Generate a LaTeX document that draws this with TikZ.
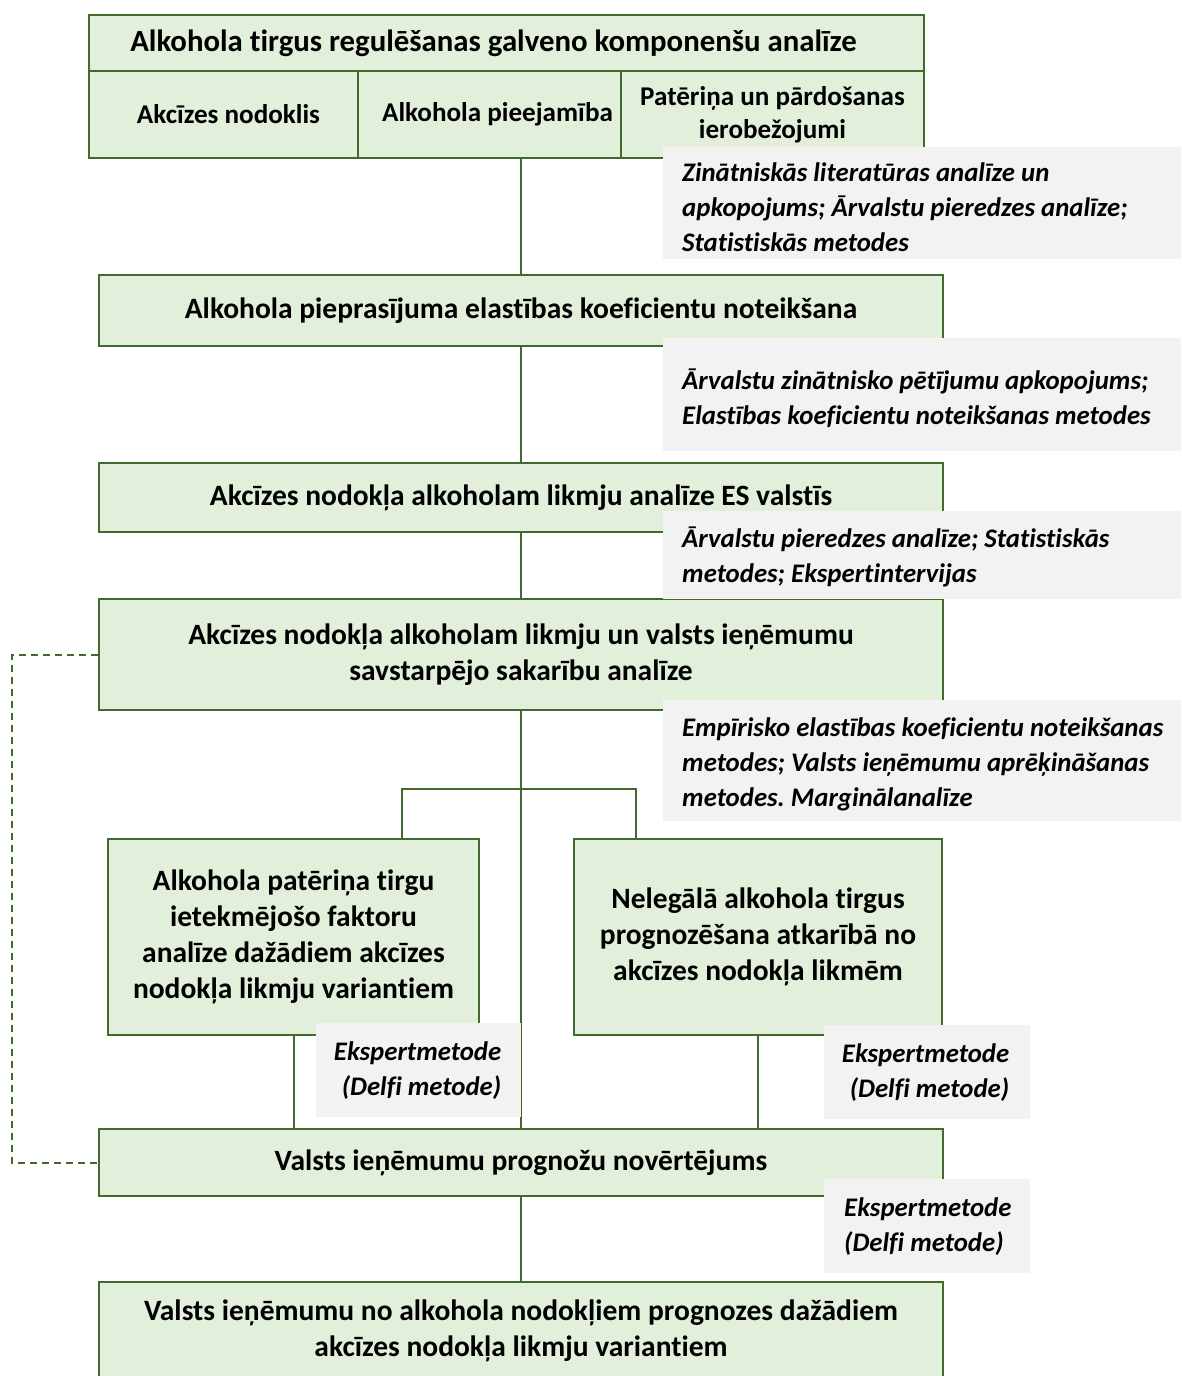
\documentclass[tikz,border=0pt]{standalone}
\usepackage{fontspec}
\setmainfont{Carlito}[Ligatures=CommonOff]
\usetikzlibrary{calc}
\definecolor{boxfill}{HTML}{E2EFDA}
\definecolor{boxline}{HTML}{426A2E}
\definecolor{notefill}{HTML}{F2F2F2}
\frenchspacing
\begin{document}
\begin{tikzpicture}[x=1pt,y=-1pt,
  greenbox/.style={draw=boxline, fill=boxfill, line width=2pt, inner sep=0pt, align=center,
    font=\fontsize{29.5}{36}\selectfont\bfseries},
  titlebox/.style={greenbox, font=\fontsize{30.8}{37}\selectfont\bfseries},
  cellbox/.style={greenbox, font=\fontsize{27.1}{33}\selectfont\bfseries},
  notebg/.style={fill=notefill, anchor=north west, inner sep=0pt},
  notetext/.style={inner sep=0pt, font=\fontsize{26.8}{35}\selectfont\bfseries\itshape},
  link/.style={draw=boxline, line width=2pt},
  backlink/.style={draw=boxline, line width=2pt, dash pattern=on 7pt off 5pt}]
\useasboundingbox (0,0) rectangle (1181,1376);

% main chain of boxes
\node[titlebox, minimum width=835, minimum height=57] (title) at (506.5,43.5)
  {Alkohola tirgus regulēšanas galveno komponenšu analīze\hspace*{26pt}\null};
\node[cellbox, minimum width=269, minimum height=87] (cellA) at (223.5,114.5)
  {\hspace*{10pt}Akcīzes nodoklis};
\node[cellbox, minimum width=263, minimum height=87] (cellB) at (489.5,114.5)
  {\hspace*{16pt}Alkohola pieejamība};
\node[cellbox, minimum width=303, minimum height=87] (cellC) at (772.5,114.5)
  {Patēriņa un pārdošanas\\ierobežojumi};
\node[inner sep=0pt, minimum width=835, minimum height=144] (frame) at (506.5,86) {};

\node[greenbox, minimum width=844, minimum height=71] (b2) at (521,310.5)
  {Alkohola pieprasījuma elastības koeficientu noteikšana};
\node[greenbox, minimum width=844, minimum height=69] (b3) at (521,497.5)
  {Akcīzes nodokļa alkoholam likmju analīze ES valstīs};
\node[greenbox, minimum width=844, minimum height=111] (b4) at (521,654.5)
  {Akcīzes nodokļa alkoholam likmju un valsts ieņēmumu\\savstarpējo sakarību analīze};
\node[greenbox, minimum width=371, minimum height=196] (b5a) at (293.5,937)
  {Alkohola patēriņa tirgu\\ietekmējošo faktoru\\analīze dažādiem akcīzes\\nodokļa likmju variantiem};
\node[greenbox, minimum width=368, minimum height=196] (b5b) at (758,937)
  {Nelegālā alkohola tirgus\\prognozēšana atkarībā no\\akcīzes nodokļa likmēm};
\node[greenbox, minimum width=844, minimum height=67] (b6) at (521,1162.5)
  {Valsts ieņēmumu prognožu novērtējums};
\node[greenbox, minimum width=844, minimum height=98] (b7) at (521,1331)
  {Valsts ieņēmumu no alkohola nodokļiem prognozes dažādiem\\akcīzes nodokļa likmju variantiem};

% connectors
\coordinate (jl) at (402,789);
\coordinate (jr) at (636,789);
\draw[link] (b2.north |- frame.south) -- (b2.north);
\draw[link] (b2.south) -- (b3.north);
\draw[link] (b3.south) -- (b4.north);
\draw[link] (b4.south) -- (b6.north);
\draw[link] (b5a.north -| jl) -- (jl) -- (jr) -- (b5b.north -| jr);
\draw[link] (b5a.south) -- (b5a.south |- b6.north);
\draw[link] (b5b.south) -- (b5b.south |- b6.north);
\draw[link] (b6.south) -- (b7.north);
\draw[backlink] (b4.west) -- ++(-86,0) |- (b6.west);

% method notes: grey panels with their text
\node[notebg, minimum width=518, minimum height=112] (n1) at (663,147) {};
\node[notetext, anchor=west, align=left] (t1) at ([xshift=19pt,yshift=-4pt]n1.west)
  {Zinātniskās literatūras analīze un\\apkopojums; Ārvalstu pieredzes analīze;\\Statistiskās metodes};
\node[notebg, minimum width=518, minimum height=113] (n2) at (663,338) {};
\node[notetext, anchor=west, align=left] (t2) at ([xshift=19pt,yshift=-4pt]n2.west)
  {Ārvalstu zinātnisko pētījumu apkopojums;\\Elastības koeficientu noteikšanas metodes};
\node[notebg, minimum width=518, minimum height=88] (n3) at (663,511) {};
\node[notetext, anchor=west, align=left] (t3) at ([xshift=19pt,yshift=-2pt]n3.west)
  {Ārvalstu pieredzes analīze; Statistiskās\\metodes; Ekspertintervijas};
\node[notebg, minimum width=518, minimum height=121] (n4) at (663,700) {};
\node[notetext, anchor=west, align=left] (t4) at ([xshift=19pt,yshift=-4pt]n4.west)
  {Empīrisko elastības koeficientu noteikšanas\\metodes; Valsts ieņēmumu aprēķināšanas\\metodes. Marginālanalīze};
\node[notebg, minimum width=205, minimum height=94] (n5a) at (316,1023) {};
\node[notetext, anchor=east, align=right] (t5a) at ([xshift=-20pt]n5a.east)
  {Ekspertmetode\\(Delfi metode)};
\node[notebg, minimum width=206, minimum height=94] (n5b) at (824,1025) {};
\node[notetext, anchor=east, align=right] (t5b) at ([xshift=-21pt]n5b.east)
  {Ekspertmetode\\(Delfi metode)};
\node[notebg, minimum width=206, minimum height=94] (n6) at (824,1179) {};
\node[notetext, anchor=west, align=left] (t6) at ([xshift=20pt]n6.west)
  {Ekspertmetode\\(Delfi metode)};
\end{tikzpicture}
\end{document}
